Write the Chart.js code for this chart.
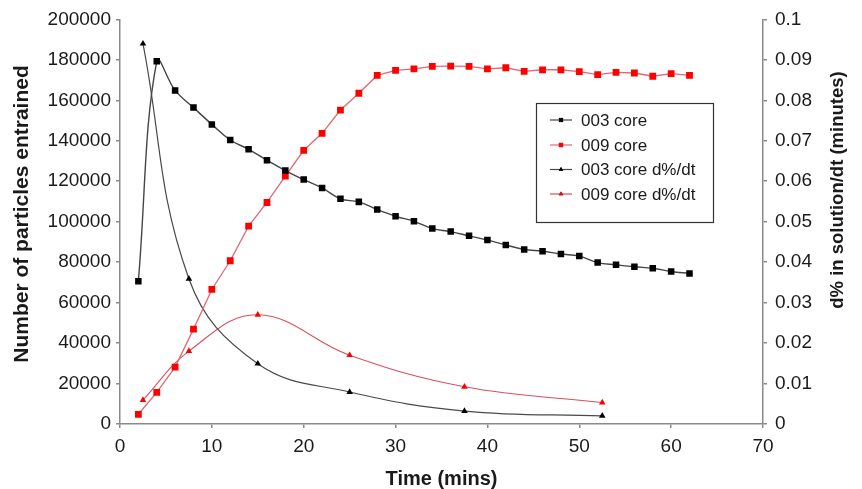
<!DOCTYPE html>
<html><head><meta charset="utf-8">
<script src="https://cdn.jsdelivr.net/npm/chart.js@4.4.0/dist/chart.umd.min.js"></script>
<style>html,body{margin:0;padding:0;background:#fff}#wrap{width:862px;height:489px;position:relative}</style>
</head><body><div id="wrap"><canvas id="c" width="862" height="489"></canvas></div>
<script>
// ---- data ----
const coreTime = [2,4,6,8,10,12,14,16,18,20,22,24,26,28,30,32,34,36,38,40,42,44,46,48,50,52,54,56,58,60,62];
const core003 = [70600,179300,164900,156400,148100,140400,135800,130400,125300,120800,116700,111300,109800,106000,102700,100200,96600,95100,93000,90900,88500,86300,85400,84000,83000,79800,78700,77700,77000,75400,74400];
const core009 = [4800,15600,28100,46900,66500,80700,97800,109500,122500,135300,143700,155200,163500,172300,174800,175500,176800,176900,176800,175500,176100,174300,175100,175100,174200,172700,173800,173500,171900,173200,172300];
const rateTime = [2.5,7.5,15,25,37.5,52.5];
const rate003 = [0.094,0.0359,0.0149,0.0079,0.0032,0.0020];
const rate009 = [0.0059,0.018,0.027,0.017,0.0092,0.0053];
const seriesNames = ['003 core','009 core','003 core d%/dt','009 core d%/dt'];
const xTitle = 'Time (mins)';
const yLeftTitle = 'Number of particles entrained';
const yRightTitle = 'd% in solution/dt (minutes)';

const pts = (xs, ys) => xs.map((x, i) => ({x: x, y: ys[i]}));

const FONT = '"Liberation Sans", Arial, sans-serif';
const AXIS = '#8a8a8a';
const TXT = '#1a1a1a';

const legendPlugin = {
  id: 'customLegend',
  afterDraw(chart) {
    const ctx = chart.ctx;
    ctx.save();
    // axis titles
    ctx.fillStyle = TXT;
    ctx.textAlign = 'center';
    ctx.textBaseline = 'middle';
    ctx.font = 'bold 20px ' + FONT;
    ctx.fillText(xTitle, (chart.chartArea.left + chart.chartArea.right) / 2, 479);
    ctx.save();
    ctx.translate(22, 214);
    ctx.rotate(-Math.PI / 2);
    ctx.font = 'bold 21px ' + FONT;
    ctx.fillText(yLeftTitle, 0, 0);
    ctx.restore();
    ctx.save();
    ctx.translate(838, 190);
    ctx.rotate(-Math.PI / 2);
    ctx.font = 'bold 18.5px ' + FONT;
    ctx.fillText(yRightTitle, 0, 0);
    ctx.restore();

    // legend box
    ctx.fillStyle = '#fff';
    ctx.fillRect(536, 103, 178, 120);
    ctx.strokeStyle = '#333';
    ctx.lineWidth = 1.2;
    ctx.strokeRect(536.5, 103.5, 177, 119);
    const rowsY = [120, 145, 169.5, 194];
    chart.data.datasets.forEach((ds, i) => {
      const y = rowsY[i];
      ctx.strokeStyle = ds.borderColor;
      ctx.lineWidth = 1.2;
      ctx.beginPath();
      ctx.moveTo(550, y);
      ctx.lineTo(572, y);
      ctx.stroke();
      Chart.helpers.drawPoint(ctx, {pointStyle: ds.pointStyle, radius: ds.pointStyle === 'rect' ? 3 : 2.6, borderWidth: 0, rotation: 0}, 561, y);
      ctx.fillStyle = ds.pointBackgroundColor;
      ctx.fill();
      ctx.fillStyle = TXT;
      ctx.textAlign = 'left';
      ctx.textBaseline = 'middle';
      ctx.font = '17px ' + FONT;
      ctx.fillText(ds.label, 581, y + 1);
    });
    ctx.restore();
  }
};

new Chart(document.getElementById('c'), {
  type: 'line',
  data: {
    datasets: [
      {label: seriesNames[0], data: pts(coreTime, core003), yAxisID: 'y',
       borderColor: '#454545', borderWidth: 1.4, tension: 0.4,
       pointStyle: 'rect', pointRadius: 4.6, pointBackgroundColor: '#000', pointBorderColor: '#000', pointBorderWidth: 0},
      {label: seriesNames[1], data: pts(coreTime, core009), yAxisID: 'y',
       borderColor: '#e26872', borderWidth: 1.3, tension: 0,
       pointStyle: 'rect', pointRadius: 4.8, pointBackgroundColor: '#ff0000', pointBorderColor: '#ff0000', pointBorderWidth: 0},
      {label: seriesNames[2], data: pts(rateTime, rate003), yAxisID: 'y2',
       borderColor: '#4a4a4a', borderWidth: 1.2, tension: 0.4,
       pointStyle: 'triangle', pointRadius: 3.8, pointBackgroundColor: '#000', pointBorderColor: '#000', pointBorderWidth: 0},
      {label: seriesNames[3], data: pts(rateTime, rate009), yAxisID: 'y2',
       borderColor: '#d8505e', borderWidth: 1.1, tension: 0.4,
       pointStyle: 'triangle', pointRadius: 3.8, pointBackgroundColor: '#ff0000', pointBorderColor: '#ff0000', pointBorderWidth: 0}
    ]
  },
  options: {
    responsive: false,
    animation: false,
    devicePixelRatio: 1,
    layout: {padding: {top: 19, left: 0, right: 0, bottom: 0}},
    plugins: {legend: {display: false}, tooltip: {enabled: false}},
    scales: {
      x: {
        type: 'linear', min: 0, max: 70,
        ticks: {stepSize: 10, color: TXT, font: {family: FONT, size: 19}, padding: 7, maxRotation: 0},
        grid: {display: true, drawOnChartArea: false, drawTicks: true, tickLength: 4, color: AXIS, lineWidth: 1.5},
        border: {display: true, color: AXIS, width: 1.5},
        afterFit: s => { s.height = 65; }
      },
      y: {
        type: 'linear', position: 'left', min: 0, max: 200000,
        ticks: {stepSize: 20000, color: TXT, font: {family: FONT, size: 19}, padding: 5, callback: v => String(v)},
        grid: {display: true, drawOnChartArea: false, drawTicks: true, tickLength: 4, color: AXIS, lineWidth: 1.5},
        border: {display: true, color: AXIS, width: 1.5},
        afterFit: s => { s.width = 120; }
      },
      y2: {
        type: 'linear', position: 'right', min: 0, max: 0.1,
        ticks: {stepSize: 0.01, color: TXT, font: {family: FONT, size: 19}, padding: 8, callback: v => String(+v.toFixed(2))},
        grid: {display: true, drawOnChartArea: false, drawTicks: true, tickLength: 4, color: AXIS, lineWidth: 1.5},
        border: {display: true, color: AXIS, width: 1.5},
        afterFit: s => { s.width = 99; }
      }
    }
  },
  plugins: [legendPlugin]
});
</script>
</body></html>
